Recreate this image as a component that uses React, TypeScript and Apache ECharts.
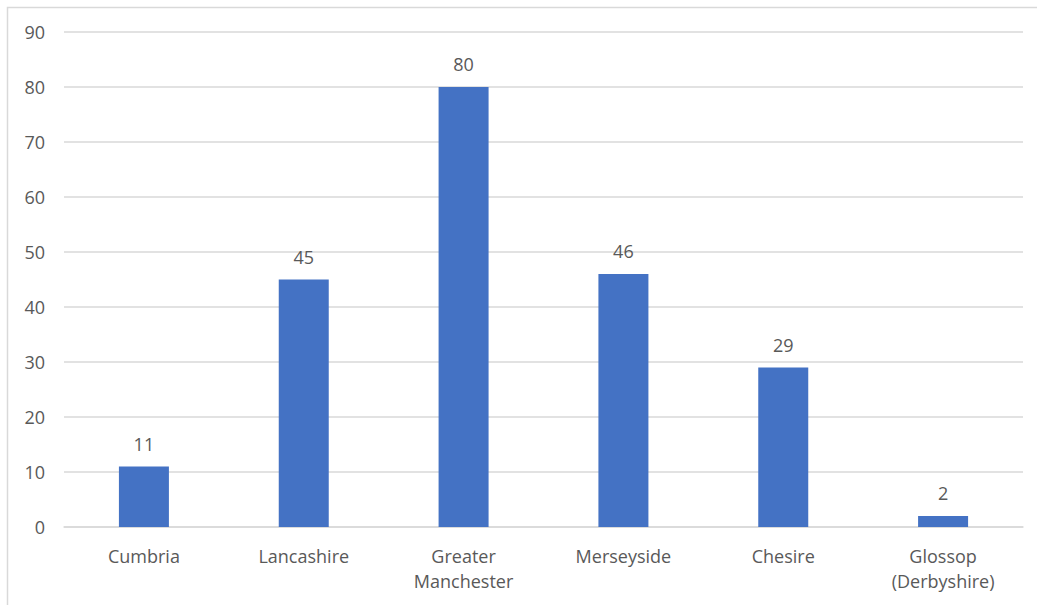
import React, { useEffect, useRef } from "react";
import * as echarts from "echarts";

const categories = ["Cumbria", "Lancashire", "Greater Manchester", "Merseyside", "Chesire", "Glossop (Derbyshire)"];
const values = [11, 45, 80, 46, 29, 2];
const yTicks = { min: 0, max: 90, interval: 10 };

const FONT = "'Open Sans', 'Noto Sans', sans-serif";
const TEXT = "#595959";
const SIZE = 18;

export default function App() {
  const ref = useRef<HTMLDivElement>(null);

  useEffect(() => {
    if (!ref.current) return;
    const chart = echarts.init(ref.current, null, { renderer: "svg" });
    chart.setOption({
      animation: false,
      backgroundColor: "#ffffff",
      graphic: [
        {
          type: "rect",
          left: 5,
          top: 5,
          shape: { width: 1040, height: 610 },
          style: { fill: "none", stroke: "#d9d9d9", lineWidth: 1.5 },
          silent: true,
        },
      ],
      grid: { left: 64, right: 14, top: 32, bottom: 78 },
      xAxis: {
        type: "category",
        data: categories,
        axisLine: { lineStyle: { color: "#d9d9d9", width: 1.5 } },
        axisTick: { show: false },
        axisLabel: {
          color: TEXT,
          fontFamily: FONT,
          fontSize: SIZE,
          lineHeight: 25,
          margin: 16,
          interval: 0,
          formatter: (v: string) => v.replace(" ", "\n"),
        },
      },
      yAxis: {
        type: "value",
        min: yTicks.min,
        max: yTicks.max,
        interval: yTicks.interval,
        axisLine: { show: false },
        axisTick: { show: false },
        splitLine: { lineStyle: { color: "#d9d9d9", width: 1.5 } },
        axisLabel: { color: TEXT, fontFamily: FONT, fontSize: SIZE, margin: 19 },
      },
      series: [
        {
          type: "bar",
          data: values,
          barWidth: 50,
          itemStyle: { color: "#4472c4" },
          label: {
            show: true,
            position: "top",
            distance: 14,
            color: TEXT,
            fontFamily: FONT,
            fontSize: SIZE,
          },
        },
      ],
    });
    return () => chart.dispose();
  }, []);

  return <div ref={ref} style={{ width: 1037, height: 605, position: "absolute", left: 0, top: 0 }} />;
}
